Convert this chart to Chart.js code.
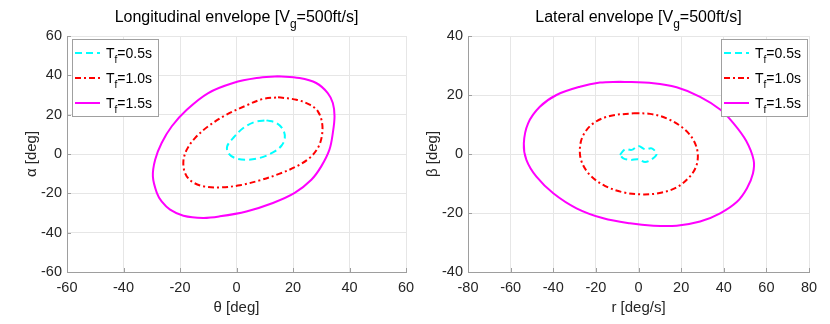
<!DOCTYPE html>
<html>
<head>
<meta charset="utf-8">
<script src="https://cdn.jsdelivr.net/npm/chart.js@4.4.0/dist/chart.umd.min.js"></script>
<style>
  html, body { margin: 0; padding: 0; background: #fff; }
  #wrap { position: relative; width: 830px; height: 324px; }
  canvas { position: absolute; top: 0; }
  #lon { left: 0; }
  #lat { left: 415px; }
</style>
</head>
<body>
<div id="wrap">
  <canvas id="lon" width="415" height="324"></canvas>
  <canvas id="lat" width="415" height="324"></canvas>
</div>
<script>
// series names
const seriesNames = ['Tf=0.5s', 'Tf=1.0s', 'Tf=1.5s'];

// longitudinal envelope: theta [deg] vs alpha [deg]
const lonTheta05 = [10.6, 14.1, 16.5, 17.1, 15.9, 12.9, 8.2, 3.5, -0.6, -2.9, -3.3, -1.2, 2.4, 6.5];
const lonAlpha05 = [17.1, 15.8, 12.4, 8.1, 4.2, 0.8, -2.0, -2.9, -2.0, 0.5, 3.9, 8.1, 13.2, 16.3];
const lonTheta10 = [14.7, 21.2, 25.9, 28.8, 30.3, 30.2, 28.8, 25.9, 21.2, 15.3, 8.2, 1.2, -5.9, -11.8, -15.9, -18.2, -18.8, -17.6, -14.7, -10.0, -3.5, 3.5, 9.4];
const lonAlpha10 = [28.8, 27.6, 25.1, 21.7, 15.8, 9.0, 3.1, -2.0, -6.3, -10.0, -13.4, -15.9, -17.0, -16.4, -13.9, -9.7, -3.7, 2.2, 8.1, 14.1, 20.0, 24.7, 28.0];
const lonTheta15 = [14.7, 22.3, 28.2, 32.3, 34.1, 34.7, 34.1, 32.9, 30.0, 26.5, 20.6, 12.9, 3.5, -5.9, -11.8, -18.8, -23.5, -26.5, -28.2, -29.6, -28.8, -26.5, -22.9, -17.6, -10.0, -1.2, 7.1];
const lonAlpha15 = [39.5, 38.6, 36.1, 31.0, 25.9, 19.2, 10.7, 2.2, -6.3, -13.1, -19.8, -24.9, -29.2, -31.7, -32.5, -31.4, -28.3, -24.1, -19.8, -11.4, -2.9, 5.6, 14.1, 22.5, 31.0, 36.1, 38.6];

// lateral envelope: r [deg/s] vs beta [deg]
const latR05 = [-8.7, -6.3, -3.2, -0.1, 3.1, 6.2, 8.5, 6.2, 3.1, -0.1, -3.9, -7.1];
const latBeta05 = [-0.3, 1.6, 1.4, 2.7, 1.6, 1.9, 0.0, -1.8, -2.7, -1.8, -2.0, -1.5];
const latR10 = [-2.4, 5.4, 13.2, 21.1, 25.8, 27.8, 27.0, 23.4, 17.2, 9.3, 1.5, -7.1, -15.8, -22.8, -26.7, -27.5, -25.9, -21.2, -13.4];
const latBeta10 = [13.8, 13.6, 12.1, 8.7, 4.7, 0.2, -4.3, -8.2, -11.6, -13.3, -13.7, -13.0, -10.8, -7.1, -2.6, 1.9, 6.4, 10.4, 12.9];
const latR15 = [-8.7, 7.0, 17.9, 28.9, 38.3, 44.5, 50.5, 54.0, 53.7, 50.9, 46.2, 38.3, 28.9, 17.9, 7.0, -4.0, -16.5, -29.1, -40.0, -47.9, -52.6, -53.8, -51.8, -46.3, -38.5, -27.5, -18.1];
const latBeta15 = [24.5, 24.0, 22.6, 19.4, 15.1, 10.5, 4.5, -2.0, -6.6, -11.6, -16.2, -20.1, -22.9, -24.3, -24.3, -23.5, -21.8, -18.4, -13.3, -7.7, -2.0, 3.6, 10.4, 16.0, 20.0, 22.8, 24.2];

// axis ranges / ticks
const lonXRange = [-60, 60];
const lonYRange = [-60, 60];
const latXRange = [-80, 80];
const latYRange = [-40, 40];
const tickStep = 20;

const FONT = '"Liberation Sans", Arial, Helvetica, sans-serif';
const colors = ['#00ffff', '#ff0000', '#ff00ff'];
const dashes = [[7, 4], [6, 3, 2, 3], []];

// closed curve: repeat first point at the end
function loop(xs, ys) {
  const pts = xs.map((x, i) => ({ x: x, y: ys[i] }));
  pts.push({ x: xs[0], y: ys[0] });
  return pts;
}

function makeSets(pairs) {
  return pairs.map((p, i) => ({
    label: seriesNames[i],
    data: loop(p[0], p[1]),
    showLine: true,
    borderColor: colors[i],
    borderWidth: 2,
    borderDash: dashes[i],
    pointRadius: 0,
    tension: 0.35,
    fill: false
  }));
}

// title with subscript, inward ticks, boxed legend (MATLAB look)
const envDecor = {
  id: 'envDecor',
  afterDraw(chart, args, opts) {
    const ctx = chart.ctx;
    const area = chart.chartArea;
    ctx.save();

    // inward tick marks on left and bottom axes
    ctx.strokeStyle = '#9e9e9e';
    ctx.lineWidth = 1;
    ctx.beginPath();
    chart.scales.x.ticks.forEach(t => {
      const px = Math.round(chart.scales.x.getPixelForValue(t.value)) + 0.5;
      ctx.moveTo(px, area.bottom);
      ctx.lineTo(px, area.bottom - 4);
    });
    chart.scales.y.ticks.forEach(t => {
      const py = Math.round(chart.scales.y.getPixelForValue(t.value)) + 0.5;
      ctx.moveTo(area.left, py);
      ctx.lineTo(area.left + 4, py);
    });
    ctx.stroke();

    // title
    ctx.textBaseline = 'alphabetic';
    ctx.fillStyle = '#000';
    const big = '16px ' + FONT, small = '12px ' + FONT;
    ctx.font = big;
    const w1 = ctx.measureText(opts.title[0]).width;
    const w3 = ctx.measureText(opts.title[2]).width;
    ctx.font = small;
    const w2 = ctx.measureText(opts.title[1]).width;
    let x = (area.left + area.right) / 2 - (w1 + w2 + w3) / 2;
    const ty = 22;
    ctx.font = big; ctx.fillText(opts.title[0], x, ty); x += w1;
    ctx.font = small; ctx.fillText(opts.title[1], x, ty + 6); x += w2;
    ctx.font = big; ctx.fillText(opts.title[2], x, ty);

    // legend box
    const lg = opts.legend;
    ctx.fillStyle = '#fff';
    ctx.fillRect(lg.x, lg.y, lg.w, lg.h);
    ctx.strokeStyle = '#a0a0a0';
    ctx.lineWidth = 1;
    ctx.setLineDash([]);
    ctx.strokeRect(lg.x + 0.5, lg.y + 0.5, lg.w, lg.h);

    chart.data.datasets.forEach((ds, i) => {
      const cy = lg.y + 14 + i * 25;
      ctx.strokeStyle = ds.borderColor;
      ctx.lineWidth = 2;
      ctx.setLineDash(ds.borderDash);
      ctx.beginPath();
      ctx.moveTo(lg.x + 3, cy);
      ctx.lineTo(lg.x + 28, cy);
      ctx.stroke();
      ctx.setLineDash([]);

      ctx.fillStyle = '#000';
      let tx = lg.x + 34;
      const base = cy + 5;
      ctx.font = '14px ' + FONT;
      ctx.fillText('T', tx, base); tx += ctx.measureText('T').width;
      ctx.font = '10px ' + FONT;
      ctx.fillText('f', tx, base + 5); tx += ctx.measureText('f').width;
      ctx.font = '14px ' + FONT;
      ctx.fillText(ds.label.slice(2), tx, base);
    });
    ctx.restore();
  }
};

function makeChart(id, sets, xr, yr, xTitle, yTitle, yWidth, padRight, yTitlePad, title, legend) {
  const tickFont = { family: FONT, size: 14.5 };
  return new Chart(document.getElementById(id), {
    type: 'scatter',
    data: { datasets: sets },
    options: {
      responsive: false,
      animation: false,
      devicePixelRatio: 1,
      layout: { padding: { top: 36, right: padRight, bottom: 0, left: 0 } },
      plugins: {
        legend: { display: false },
        title: { display: false },
        tooltip: { enabled: false },
        envDecor: { title: title, legend: legend }
      },
      scales: {
        x: {
          type: 'linear',
          min: xr[0], max: xr[1],
          ticks: { stepSize: tickStep, color: '#262626', font: tickFont, padding: 7, maxRotation: 0 },
          grid: { color: '#e6e6e6', drawTicks: false },
          border: { color: '#9e9e9e', width: 1 },
          title: { display: true, text: xTitle, color: '#262626', font: { family: FONT, size: 15 }, padding: { top: 0, bottom: 7 } },
          afterFit(scale) { scale.height = 52; scale.paddingLeft = 0; scale.paddingRight = 0; }
        },
        y: {
          type: 'linear',
          min: yr[0], max: yr[1],
          ticks: { stepSize: tickStep, color: '#262626', font: tickFont, padding: 5 },
          grid: { color: '#e6e6e6', drawTicks: false },
          border: { color: '#9e9e9e', width: 1 },
          title: { display: true, text: yTitle, color: '#262626', font: { family: FONT, size: 15 }, padding: { top: yTitlePad, bottom: 0 } },
          afterFit(scale) { scale.width = yWidth; scale.paddingTop = 0; scale.paddingBottom = 0; }
        }
      }
    },
    plugins: [envDecor]
  });
}

makeChart('lon',
  makeSets([[lonTheta05, lonAlpha05], [lonTheta10, lonAlpha10], [lonTheta15, lonAlpha15]]),
  lonXRange, lonYRange, 'θ [deg]', 'α [deg]', 67, 9, 23,
  ['Longitudinal envelope [V', 'g', '=500ft/s]'],
  { x: 72, y: 39, w: 86, h: 77 });

makeChart('lat',
  makeSets([[latR05, latBeta05], [latR10, latBeta10], [latR15, latBeta15]]),
  latXRange, latYRange, 'r [deg/s]', 'β [deg]', 53, 21, 9,
  ['Lateral envelope [V', 'g', '=500ft/s]'],
  { x: 306, y: 39, w: 86, h: 77 });
</script>
</body>
</html>
